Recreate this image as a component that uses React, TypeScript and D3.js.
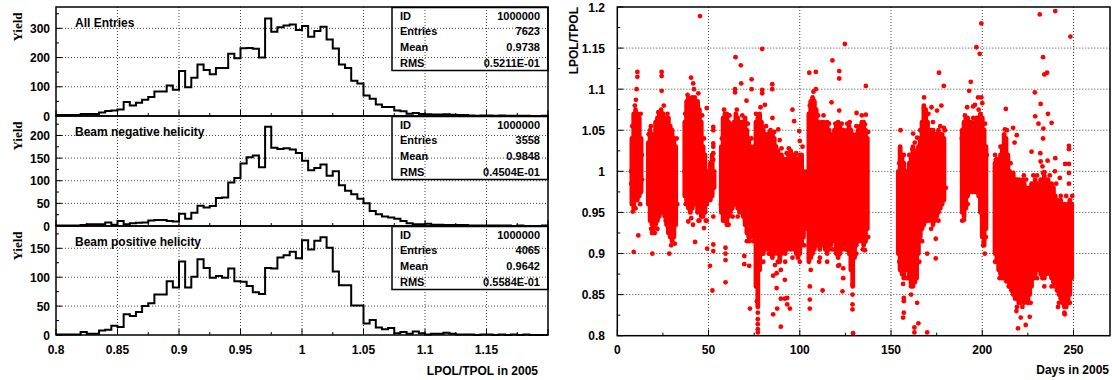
import React from 'react';
import * as d3 from 'd3';

// ---------- Histogram data (80 bins of 0.005 from 0.8 to 1.2) ----------
const binLow = 0.8;
const binWidth = 0.005;

const allEntries = [
  3, 3, 3, 3, 7, 7, 7, 12, 17, 19,
  22, 48, 36, 45, 56, 65, 84, 84, 104, 90,
  154, 98, 131, 176, 157, 143, 164, 164, 213, 198,
  232, 233, 230, 200, 334, 288, 304, 310, 313, 294,
  308, 271, 291, 305, 262, 231, 176, 164, 121, 111,
  70, 59, 39, 31, 31, 19, 16, 8, 10, 7,
  6, 5, 5, 6, 4, 3, 3, 2, 1, 2,
  2, 1, 2, 1, 1, 1, 1, 0, 0, 1,
];
const negHelicity = [
  1, 1, 1, 1, 2, 4, 4, 4, 8, 3,
  11, 4, 6, 7, 8, 12, 13, 13, 11, 10,
  27, 16, 29, 45, 41, 44, 62, 63, 96, 106,
  138, 152, 156, 130, 219, 173, 170, 172, 169, 161,
  144, 123, 128, 136, 111, 121, 90, 78, 70, 60,
  50, 33, 26, 21, 19, 16, 11, 6, 4, 4,
  5, 3, 3, 2, 2, 2, 2, 1, 1, 1,
  1, 1, 1, 1, 0, 1, 0, 0, 0, 1,
];
const posHelicity = [
  1, 1, 1, 1, 5, 2, 2, 8, 9, 16,
  14, 36, 33, 40, 50, 55, 70, 70, 93, 82,
  127, 82, 101, 131, 116, 99, 102, 99, 115, 93,
  92, 85, 74, 71, 116, 115, 134, 138, 144, 133,
  164, 148, 163, 169, 151, 110, 86, 86, 51, 51,
  20, 26, 13, 10, 12, 3, 5, 2, 6, 3,
  1, 2, 2, 4, 2, 1, 1, 1, 0, 1,
  1, 0, 1, 0, 1, 0, 1, 0, 0, 0,
];

const histTitles = ['All Entries', 'Beam negative helicity', 'Beam positive helicity'];
const statLabels = ['ID', 'Entries', 'Mean', 'RMS'];
const statAll = ['1000000', '7623', '0.9738', '0.5211E-01'];
const statNeg = ['1000000', '3558', '0.9848', '0.4504E-01'];
const statPos = ['1000000', '4065', '0.9642', '0.5584E-01'];
const histXTicks = [0.8, 0.85, 0.9, 0.95, 1, 1.05, 1.1, 1.15];
const histYTicksAll = [0, 100, 200, 300];
const histYTicksNeg = [0, 50, 100, 150, 200];
const histYTicksPos = [0, 50, 100, 150];

// ---------- Scatter data (LPOL/TPOL vs day) ----------
// dense regions read per day: [day, low, high]
const denseBands: [number, number, number][] = [
  [8, 0.96, 1.04], [9, 0.955, 1.07], [10, 0.965, 1.075], [11, 0.965, 1.07], [12, 0.97, 1.065], [13, 0.975, 1.04],
  [17, 0.96, 1.035], [18, 0.94, 1.05], [19, 0.935, 1.045], [20, 0.93, 1.04], [21, 0.935, 1.06], [22, 0.94, 1.065],
  [23, 0.945, 1.07], [24, 0.95, 1.075], [25, 0.95, 1.07], [26, 0.945, 1.065], [27, 0.935, 1.06], [28, 0.925, 1.065],
  [29, 0.92, 1.055], [30, 0.915, 1.05], [31, 0.92, 1.04], [32, 0.935, 1.03],
  [37, 0.97, 1.06], [38, 0.96, 1.085], [39, 0.955, 1.09], [40, 0.95, 1.085], [41, 0.955, 1.09], [42, 0.96, 1.08],
  [43, 0.96, 1.085], [44, 0.95, 1.085], [45, 0.955, 1.075], [46, 0.945, 1.06], [47, 0.945, 1.03], [48, 0.95, 1.02],
  [49, 0.96, 1.0],
  [51, 0.965, 1.01], [52, 0.97, 1.02], [53, 0.98, 1.0],
  [57, 0.95, 1.03], [58, 0.94, 1.065], [59, 0.94, 1.07], [60, 0.935, 1.07], [61, 0.945, 1.06], [62, 0.95, 1.055],
  [63, 0.955, 1.05], [64, 0.96, 1.06], [65, 0.96, 1.07], [66, 0.955, 1.065], [67, 0.95, 1.06], [68, 0.955, 1.06],
  [69, 0.945, 1.06], [70, 0.935, 1.065], [71, 0.925, 1.05], [72, 0.92, 1.04], [73, 0.92, 1.03], [74, 0.925, 1.02],
  [75, 0.92, 1.03], [76, 0.86, 1.06], [77, 0.835, 1.065], [78, 0.88, 1.07], [79, 0.9, 1.06], [80, 0.9, 1.05],
  [81, 0.91, 1.045], [82, 0.905, 1.045], [83, 0.91, 1.04], [84, 0.9, 1.05], [85, 0.895, 1.045], [86, 0.9, 1.04],
  [87, 0.905, 1.03], [88, 0.9, 1.025], [89, 0.89, 1.02], [90, 0.9, 1.02], [91, 0.905, 1.015], [92, 0.9, 1.01],
  [93, 0.905, 1.015], [94, 0.91, 1.02], [95, 0.905, 1.025], [96, 0.91, 1.02], [97, 0.905, 1.02], [98, 0.9, 1.015],
  [99, 0.895, 1.01], [100, 0.9, 1.02], [101, 0.91, 1.02], [102, 0.92, 1.0], [103, 0.93, 0.99], [104, 0.93, 1.0],
  [105, 0.89, 1.07], [106, 0.895, 1.085], [107, 0.9, 1.09], [108, 0.905, 1.085], [109, 0.91, 1.075], [110, 0.91, 1.06],
  [111, 0.905, 1.05], [112, 0.91, 1.06], [113, 0.915, 1.06], [114, 0.905, 1.055], [115, 0.9, 1.06], [116, 0.905, 1.05],
  [117, 0.91, 1.045], [118, 0.915, 1.04], [119, 0.92, 1.05], [120, 0.9, 1.055], [121, 0.895, 1.06], [122, 0.9, 1.055],
  [123, 0.905, 1.05], [124, 0.91, 1.05], [125, 0.915, 1.045], [126, 0.905, 1.05], [127, 0.9, 1.055], [128, 0.88, 1.05],
  [129, 0.86, 1.045], [130, 0.895, 1.04], [131, 0.91, 1.045], [132, 0.915, 1.05], [133, 0.92, 1.055], [134, 0.915, 1.06],
  [135, 0.91, 1.06], [136, 0.915, 1.05], [137, 0.93, 1.04],
  [154, 0.9, 1.0], [155, 0.88, 1.03], [156, 0.875, 1.02], [157, 0.87, 1.01], [158, 0.88, 1.0], [159, 0.885, 1.0],
  [160, 0.87, 1.01], [161, 0.86, 1.02], [162, 0.86, 1.03], [163, 0.865, 1.025], [164, 0.87, 1.02], [165, 0.9, 1.03],
  [166, 0.92, 1.04], [167, 0.93, 1.06], [168, 0.935, 1.08], [169, 0.94, 1.075], [170, 0.945, 1.06], [171, 0.94, 1.045],
  [172, 0.945, 1.05], [173, 0.935, 1.05], [174, 0.94, 1.045], [175, 0.945, 1.045], [176, 0.95, 1.05], [177, 0.955, 1.045],
  [178, 0.96, 1.045], [179, 0.965, 1.04],
  [189, 0.95, 1.05], [190, 0.945, 1.06], [191, 0.955, 1.065], [192, 0.97, 1.065], [193, 0.975, 1.06], [194, 0.975, 1.06],
  [195, 0.975, 1.055], [196, 0.975, 1.06], [197, 0.975, 1.065], [198, 0.97, 1.065], [199, 0.95, 1.07], [200, 0.92, 1.065],
  [201, 0.91, 1.05], [202, 0.93, 1.03],
  [207, 0.9, 1.01], [208, 0.89, 1.015], [209, 0.88, 1.01], [210, 0.875, 1.02], [211, 0.87, 1.03], [212, 0.87, 1.045],
  [213, 0.875, 1.04], [214, 0.87, 1.02], [215, 0.86, 1.0], [216, 0.855, 0.995], [217, 0.85, 0.995], [218, 0.845, 0.99],
  [219, 0.845, 0.985], [220, 0.84, 0.98], [221, 0.84, 0.985], [222, 0.845, 0.99], [223, 0.84, 0.985], [224, 0.845, 0.98],
  [225, 0.84, 0.975], [226, 0.85, 0.98], [227, 0.86, 0.985], [228, 0.87, 0.98], [229, 0.875, 0.99], [230, 0.88, 0.985],
  [231, 0.88, 0.975], [232, 0.875, 0.99], [233, 0.87, 0.985], [234, 0.87, 0.995], [235, 0.875, 0.98], [236, 0.88, 0.99],
  [237, 0.875, 0.975], [238, 0.87, 0.985], [239, 0.865, 0.98], [240, 0.86, 0.97], [241, 0.855, 0.965], [242, 0.85, 0.96],
  [243, 0.845, 0.965], [244, 0.84, 0.955], [245, 0.835, 0.96], [246, 0.835, 0.95], [247, 0.84, 0.96], [248, 0.85, 0.965],
  [249, 0.87, 0.96],
];

// isolated points: [day, value]
const outliers: [number, number][] = [
  [11, 1.121], [11, 1.115], [10.6, 1.1], [10.2, 1.087], [9.6, 1.08], [8.5, 0.951], [11.5, 0.922], [9, 0.902],
  [24.3, 1.121], [24.3, 1.116], [24.3, 1.098], [18.4, 1.055], [19, 0.925], [19.2, 0.9], [28.5, 0.9], [22, 0.93],
  [45.3, 1.189], [40.4, 1.114], [41.6, 1.107], [44.4, 1.095], [42, 1.1], [49, 1.077], [38.9, 0.939], [41.5, 0.935],
  [42.6, 0.914], [47.5, 0.931], [45, 0.94], [49, 0.94],
  [52.6, 1.054], [52.6, 1.05], [52.6, 1.034], [52.6, 1.03], [52.6, 1.022], [52.6, 1.014], [52.6, 0.945], [52.6, 0.911],
  [52.6, 0.903], [50.8, 0.885], [52.1, 0.855], [49.2, 0.906],
  [64.8, 1.139], [67.7, 1.129], [67.9, 1.107], [73.6, 1.112], [73.6, 1.1], [70.8, 1.086], [64.5, 1.1], [64.5, 1.096],
  [59.3, 0.907], [59.3, 0.9], [59.3, 0.892], [59.3, 0.865], [63.2, 0.945], [69.6, 0.897], [69.6, 0.887], [72.3, 0.885],
  [72.3, 0.915], [72.7, 0.833],
  [77, 0.828], [77, 0.82], [77, 0.814], [77, 0.808], [77, 0.804], [76.5, 0.842],
  [79.4, 1.149], [79.4, 1.099], [79.4, 1.095], [80.9, 1.081], [84.9, 1.1], [84.9, 1.106], [85, 1.065], [88.2, 1.051],
  [89, 1.038], [92.8, 1.022], [96, 1.075], [96.9, 1.061], [99.7, 1.049], [100, 1.037],
  [85.4, 0.873], [87.3, 0.876], [86.4, 0.886], [87.3, 0.858], [89.6, 0.88], [91.8, 0.868], [89.6, 0.845], [91.8, 0.845],
  [93.1, 0.846], [93.1, 0.838], [94.6, 0.833], [87.6, 0.833], [85.4, 0.826], [89.6, 0.811],
  [105.2, 1.12], [108.8, 1.121], [108.8, 1.1], [107.4, 1.087], [105.5, 0.86], [105.5, 0.844], [105.5, 0.833],
  [112.5, 0.855], [110.6, 0.89],
  [117.4, 1.084], [117.9, 1.135], [121.6, 1.122], [121.6, 1.113], [124.7, 1.155], [121.6, 1.074], [131.1, 1.071],
  [136.2, 1.104], [136.2, 1.069], [127.4, 1.06], [135.7, 1.057],
  [121.6, 0.886], [123.8, 0.882], [123.8, 0.87], [123.4, 0.854], [128.9, 0.882], [128.9, 0.862], [128.9, 0.85],
  [128.9, 0.838], [128.9, 0.832], [129.2, 0.803], [135.7, 0.904], [135.7, 0.914],
  [155.2, 1.05], [162.1, 1.046], [164.3, 1.041], [161.8, 1.027], [168.1, 1.09], [168.1, 1.077], [172.2, 1.078],
  [176.3, 1.12], [178.9, 1.104], [177.6, 1.08], [178.9, 1.053], [175.2, 1.074],
  [156.6, 0.875], [156.6, 0.863], [157, 0.846], [157, 0.842], [157, 0.828], [156.6, 0.822], [164.3, 0.84],
  [165, 0.815], [162.8, 0.81], [162.8, 0.804], [169.8, 0.9], [174.5, 0.894], [174.5, 0.918], [169.8, 0.804],
  [172.5, 0.941], [169.6, 0.94],
  [199.5, 1.18], [196.8, 1.151], [198.6, 1.143], [193.7, 1.109], [192.8, 1.098], [197.7, 1.09], [199.5, 1.09],
  [191.7, 1.078], [195, 1.079], [196, 1.081], [200, 1.083],
  [189.5, 0.953], [190, 0.941], [201.4, 0.9], [200.8, 0.914],
  [212.9, 1.076], [212.4, 1.051], [216.9, 1.053], [217.7, 1.035], [218.9, 1.044], [207.4, 1.014],
  [231.5, 1.191], [240, 1.195], [248.3, 1.164], [233.3, 1.139], [234, 1.118], [235.5, 1.12], [228.8, 1.096],
  [232, 1.082], [236, 1.07], [229, 1.067], [230.8, 1.058], [233.5, 1.052], [238, 1.059], [233.3, 1.04],
  [227, 1.024], [240, 1.016], [247.5, 1.031], [247.5, 1.027], [245.4, 1.009], [247.5, 1.009], [247.5, 0.998],
  [247.5, 0.985], [242.5, 0.992], [239.8, 1.0], [235.8, 1.013], [231.8, 1.022], [232, 1.012], [233, 1.006],
  [233.3, 0.998], [222.8, 0.995], [226.4, 0.975], [231.5, 0.976], [217, 0.998], [218.8, 0.99], [214.9, 0.99],
  [211.4, 0.906], [213.2, 0.87], [213.2, 0.866], [216.9, 0.851], [219.6, 0.809], [221.1, 0.822], [223.8, 0.813],
  [226, 0.823], [218.7, 0.83], [245.2, 0.826], [241.5, 0.835],
  // points along the ragged edges of the dense regions
  [7.5, 1.0], [7.6, 0.985], [8.2, 1.055], [12.8, 1.07], [13.5, 1.02], [13.6, 0.99], [12.5, 0.96], [10, 0.955],
  [17.2, 1.045], [16.8, 0.99], [18.5, 0.93], [20.5, 0.925], [22.5, 1.072], [25.5, 1.08], [27.5, 1.07], [29.5, 0.91],
  [31.5, 0.912], [32.5, 1.04], [32.8, 0.96], [26.5, 0.94],
  [37.2, 1.07], [36.8, 1.0], [38.5, 1.093], [42.5, 1.09], [46.5, 1.068], [47.5, 1.04], [48.5, 0.94], [44.5, 0.94],
  [40.5, 0.943], [37.5, 0.96],
  [57.3, 1.04], [56.8, 0.96], [58.5, 1.075], [61.5, 1.068], [63.5, 1.058], [65.5, 1.075], [68.5, 1.068], [71.5, 1.058],
  [73.5, 1.04], [74.5, 0.915], [71, 0.915], [66, 0.945], [61, 0.935],
  [76, 1.07], [78.5, 1.078], [81.5, 1.055], [83.5, 1.048], [86, 1.048], [90, 1.028], [94, 1.028], [98, 1.022],
  [101.5, 1.03], [80, 0.89], [83, 0.9], [88, 0.89], [92, 0.89], [96, 0.895], [100, 0.89], [102.5, 0.91],
  [105.5, 1.08], [107.5, 1.097], [110, 1.068], [113, 1.068], [116, 1.058], [119.5, 1.058], [123, 1.058], [126, 1.058],
  [131, 1.055], [134, 1.068], [137.5, 1.048], [106, 0.88], [111, 0.895], [115, 0.89], [118, 0.905], [121, 0.885],
  [125, 0.905], [131, 0.9], [134.5, 0.905], [137.5, 0.92],
  [154.5, 1.01], [157, 1.02], [160, 1.02], [163, 1.035], [166, 1.05], [170.5, 1.07], [173, 1.06], [177, 1.055],
  [179.5, 1.05], [180, 0.98], [176, 0.94], [172, 0.93], [167, 0.915], [165.5, 0.89], [161, 0.85], [158.5, 0.87],
  [154.5, 0.89],
  [188.8, 1.04], [190.5, 1.068], [195, 1.065], [198, 1.075], [201.5, 1.058], [202.5, 1.02], [189, 0.94], [192, 0.96],
  [200.5, 0.91], [202, 0.92],
  [207, 1.02], [210, 1.03], [213.5, 1.05], [215.5, 1.01], [220, 0.99], [224, 0.99], [228, 0.995], [230, 0.995],
  [234, 0.999], [237, 0.995], [240.5, 0.985], [243, 0.97], [246, 0.97], [249.3, 0.97], [207, 0.89], [209.5, 0.87],
  [214.5, 0.86], [219, 0.835], [222, 0.835], [226.5, 0.84], [230, 0.87], [234, 0.86], [238, 0.86], [242, 0.84],
  [245, 0.828], [248, 0.84],
];
const scatterXTicks = [0, 50, 100, 150, 200, 250];
const scatterYTicks = [0.8, 0.85, 0.9, 0.95, 1, 1.05, 1.1, 1.15, 1.2];

const FONT = "'Liberation Sans', Arial, Helvetica, sans-serif";
const SERIF = "'Liberation Serif', 'Times New Roman', serif";
const GRID = '#444';

type HistPanelProps = {
  values: number[];
  title: string;
  stats: string[];
  top: number;
  bottom: number;
  yMax: number;
  yTicks: number[];
  minorStep: number;
  showXLabels: boolean;
};

const HL = 56;
const HR = 548;
const xHist = d3.scaleLinear().domain([0.8, 1.2]).range([HL, HR]);

function HistPanel({ values, title, stats, top, bottom, yMax, yTicks, minorStep, showXLabels }: HistPanelProps) {
  const y = d3.scaleLinear().domain([0, yMax]).range([bottom, top]);
  const pts: [number, number][] = values.map((v, i) => [binLow + i * binWidth, v]);
  pts.push([binLow + values.length * binWidth, values[values.length - 1]]);
  const line = d3
    .line<[number, number]>()
    .x((d) => xHist(d[0]))
    .y((d) => y(d[1]))
    .curve(d3.curveStepAfter);
  const minor = d3.range(0, yMax, minorStep);
  const xMinor = d3.range(0.8, 1.2001, 0.025);
  const boxL = 392;
  const boxT = top + 0.5;
  const boxH = 63;
  return (
    <g>
      {histXTicks.slice(1).map((t) => (
        <line key={'gx' + t} x1={xHist(t)} x2={xHist(t)} y1={top} y2={bottom} stroke={GRID} strokeWidth={1} strokeDasharray="1,2" />
      ))}
      {yTicks.slice(1).map((t) => (
        <line key={'gy' + t} x1={HL} x2={HR} y1={y(t)} y2={y(t)} stroke={GRID} strokeWidth={1} strokeDasharray="1,2" />
      ))}
      <path d={line(pts) || ''} fill="none" stroke="#000" strokeWidth={2} />
      <rect x={HL} y={top} width={HR - HL} height={bottom - top} fill="none" stroke="#000" strokeWidth={1.5} />
      {xMinor.map((t, i) => (
        <line key={'tx' + i} x1={xHist(t)} x2={xHist(t)} y1={bottom} y2={bottom - (i % 2 === 0 ? 6 : 3)} stroke="#000" strokeWidth={1} />
      ))}
      {minor.map((t, i) => (
        <line key={'ty' + i} x1={HL} x2={HL + (yTicks.includes(t) ? 6 : 3)} y1={y(t)} y2={y(t)} stroke="#000" strokeWidth={1} />
      ))}
      {yTicks.map((t) => (
        <text key={'yl' + t} x={50} y={y(t) + 4.5} textAnchor="end" fontFamily={FONT} fontWeight="bold" fontSize={12}>
          {t}
        </text>
      ))}
      <text
        transform={`translate(22, ${top + 20}) rotate(-90)`}
        textAnchor="middle"
        fontFamily={SERIF}
        fontWeight="bold"
        fontSize={13}
      >
        Yield
      </text>
      <text x={75} y={top + 19.5} fontFamily={FONT} fontWeight="bold" fontSize={12}>
        {title}
      </text>
      <rect x={boxL} y={boxT} width={HR - boxL} height={boxH} fill="none" stroke="#000" strokeWidth={1.5} />
      {statLabels.map((lab, k) => (
        <g key={lab}>
          <text x={boxL + 8} y={boxT + 12 + 15.8 * k} fontFamily={FONT} fontWeight="bold" fontSize={11}>
            {lab}
          </text>
          <text x={HR - 8} y={boxT + 12 + 15.8 * k} textAnchor="end" fontFamily={FONT} fontWeight="bold" fontSize={11}>
            {stats[k]}
          </text>
        </g>
      ))}
      {showXLabels &&
        histXTicks.map((t) => (
          <text key={'xl' + t} x={xHist(t)} y={353.5} textAnchor="middle" fontFamily={FONT} fontWeight="bold" fontSize={12}>
            {t}
          </text>
        ))}
    </g>
  );
}

const SL = 617.3;
const SR = 1110;
const ST = 7;
const SB = 335.7;
const xDay = d3.scaleLinear().domain([0, 270]).range([SL, SR]);
const yRatio = d3.scaleLinear().domain([0.8, 1.2]).range([SB, ST]);

function ScatterPanel() {
  const xMinor = d3.range(0, 270, 25);
  const yMinor = d3.range(0.8, 1.2001, 0.025);
  return (
    <g>
      {scatterXTicks.slice(1).map((t) => (
        <line key={'gx' + t} x1={xDay(t)} x2={xDay(t)} y1={ST} y2={SB} stroke={GRID} strokeWidth={1} strokeDasharray="1,2" />
      ))}
      {scatterYTicks.slice(1, -1).map((t) => (
        <line key={'gy' + t} x1={SL} x2={SR} y1={yRatio(t)} y2={yRatio(t)} stroke={GRID} strokeWidth={1} strokeDasharray="1,2" />
      ))}
      <g clipPath="url(#scClip)">
        {denseBands.map(([d, lo, hi], i) => (
          <line
            key={'b' + i}
            x1={xDay(d)}
            x2={xDay(d)}
            y1={yRatio(lo)}
            y2={yRatio(hi)}
            stroke="#ff0000"
            strokeWidth={4.8}
            strokeLinecap="round"
          />
        ))}
        {outliers.map(([d, v], i) => (
          <circle key={'p' + i} cx={xDay(d)} cy={yRatio(v)} r={2.4} fill="#ff0000" />
        ))}
      </g>
      <rect x={SL} y={ST} width={SR - SL} height={SB - ST} fill="none" stroke="#000" strokeWidth={1.5} />
      {xMinor.map((t, i) => (
        <line key={'tx' + i} x1={xDay(t)} x2={xDay(t)} y1={SB} y2={SB - (i % 2 === 0 ? 6 : 3)} stroke="#000" strokeWidth={1} />
      ))}
      {yMinor.map((t, i) => (
        <line key={'ty' + i} x1={SL} x2={SL + (i % 2 === 0 ? 6 : 3)} y1={yRatio(t)} y2={yRatio(t)} stroke="#000" strokeWidth={1} />
      ))}
      {scatterXTicks.map((t) => (
        <text key={'xl' + t} x={xDay(t)} y={353.5} textAnchor="middle" fontFamily={FONT} fontWeight="bold" fontSize={12}>
          {t}
        </text>
      ))}
      {scatterYTicks.map((t) => (
        <text key={'yl' + t} x={605} y={yRatio(t) + 4.5} textAnchor="end" fontFamily={FONT} fontWeight="bold" fontSize={12}>
          {t}
        </text>
      ))}
      <text transform={`translate(578, 7) rotate(-90)`} textAnchor="end" fontFamily={FONT} fontWeight="bold" fontSize={12}>
        LPOL/TPOL
      </text>
      <text x={1109} y={373.5} textAnchor="end" fontFamily={FONT} fontWeight="bold" fontSize={12}>
        Days in 2005
      </text>
    </g>
  );
}

export default function App() {
  return (
    <svg width={1112} height={380} style={{ position: 'absolute', left: 0, top: 0, background: '#fff' }}>
      <defs>
        <clipPath id="scClip">
          <rect x={SL} y={ST} width={SR - SL} height={SB - ST} />
        </clipPath>
      </defs>
      <rect x={0} y={0} width={1112} height={380} fill="#fff" />
      <HistPanel values={allEntries} title={histTitles[0]} stats={statAll} top={7} bottom={116} yMax={373} yTicks={histYTicksAll} minorStep={50} showXLabels={false} />
      <HistPanel values={negHelicity} title={histTitles[1]} stats={statNeg} top={116} bottom={226} yMax={243} yTicks={histYTicksNeg} minorStep={25} showXLabels={false} />
      <HistPanel values={posHelicity} title={histTitles[2]} stats={statPos} top={226} bottom={335} yMax={188.6} yTicks={histYTicksPos} minorStep={25} showXLabels={true} />
      <text x={538} y={374.5} textAnchor="end" fontFamily={FONT} fontWeight="bold" fontSize={12}>
        LPOL/TPOL in 2005
      </text>
      <ScatterPanel />
    </svg>
  );
}
